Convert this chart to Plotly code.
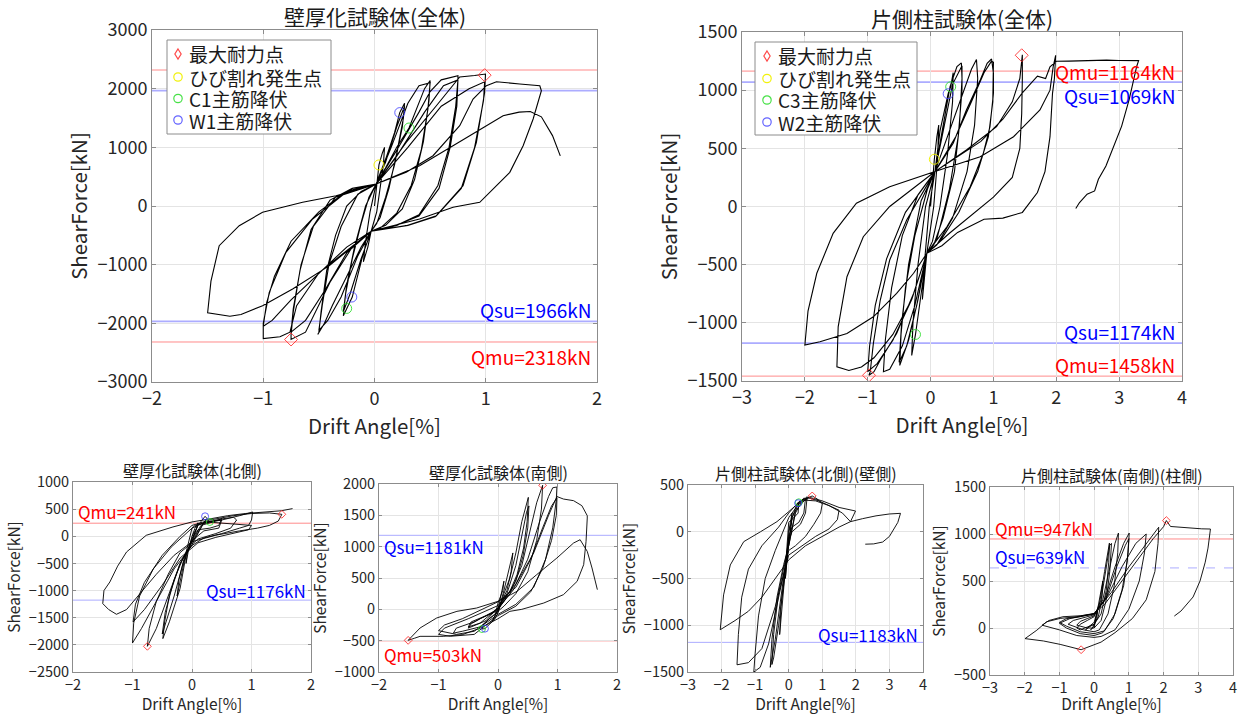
import plotly.graph_objects as go

FONT = "Noto Sans CJK JP"

# ---------------- data (drift angle [%], shear force [kN]) ----------------
TL_LOOP = [(0,0),(0.02,350),(0.04,700),(0.07,900),(0.09,1000),(0.08,700),(0.05,300),(0.02,-100),(-0.03,-430),(-0.06,-700),(-0.1,-950),(-0.08,-600),(-0.04,-100),(0.015,375),
(0.1,800),(0.18,1250),(0.227,1592),(0.27,1750),(0.26,1500),(0.2,900),(0.13,300),(0.05,-200),(-0.03,-430),(-0.1,-800),(-0.2,-1552),(-0.25,-1746),(-0.28,-1870),(-0.26,-1500),(-0.2,-900),(-0.12,-300),(-0.05,150),(0.015,375),
(0.1,750),(0.2,1350),(0.27,1700),(0.25,1350),(0.18,700),(0.1,150),(0.02,-300),(-0.03,-430),(-0.12,-900),(-0.22,-1500),(-0.28,-1800),(-0.25,-1350),(-0.18,-700),(-0.08,0),(0.015,375),
(0.1,650),(0.2,1000),(0.31,1329),(0.4,1750),(0.45,2000),(0.5,2140),(0.49,1800),(0.44,1100),(0.36,450),(0.25,-50),(0.1,-330),(-0.03,-430),(-0.12,-700),(-0.25,-1200),(-0.38,-1700),(-0.45,-2000),(-0.51,-2190),(-0.5,-2150),(-0.48,-1800),(-0.43,-1100),(-0.35,-500),(-0.25,0),(-0.12,250),(0.015,375),
(0.15,1000),(0.3,1750),(0.4,2050),(0.5,2100),(0.48,1650),(0.42,950),(0.33,350),(0.2,-120),(0.05,-380),(-0.03,-430),(-0.15,-850),(-0.3,-1550),(-0.42,-1950),(-0.5,-2120),(-0.47,-1700),(-0.41,-1000),(-0.3,-350),(-0.15,200),(0.015,375),
(0.2,950),(0.4,1600),(0.5,1950),(0.6,2150),(0.75,2220),(0.75,2150),(0.73,1700),(0.67,1000),(0.57,350),(0.4,-150),(0.2,-330),(-0.03,-430),(-0.2,-700),(-0.4,-1300),(-0.55,-1900),(-0.62,-2150),(-0.75,-2275),(-0.75,-2200),(-0.73,-1800),(-0.67,-1100),(-0.57,-400),(-0.4,100),(-0.2,300),(0.015,375),
(0.2,850),(0.45,1600),(0.62,2050),(0.75,2150),(0.74,1700),(0.68,1000),(0.58,300),(0.4,-170),(0.15,-360),(-0.03,-430),(-0.25,-800),(-0.45,-1450),(-0.62,-1950),(-0.75,-2150),(-0.73,-1750),(-0.66,-1000),(-0.55,-350),(-0.35,150),(0.015,375),
(0.285,1085),(0.556,1709),(0.7,2050),(0.766,2200),(0.9,2225),(0.997,2249),(0.997,2220),(0.99,1937),(0.916,1085),(0.796,346),(0.556,-165),(0.285,-335),(-0.03,-430),(-0.195,-676),(-0.495,-1130),(-0.7,-1700),(-0.76,-2150),(-0.85,-2230),(-1.0,-2260),(-1.0,-2000),(-0.946,-1471),(-0.796,-789),(-0.556,-221),(-0.255,233),(0.015,375),
(0.3,1000),(0.6,1700),(0.85,2000),(0.99,2116),(0.98,1800),(0.9,1000),(0.78,300),(0.55,-180),(0.3,-330),(-0.03,-430),(-0.25,-700),(-0.5,-1150),(-0.75,-1600),(-0.92,-1950),(-1.0,-2050),(-0.97,-1650),(-0.9,-1200),(-0.75,-600),(-0.5,-100),(-0.25,250),(0.015,375),
(0.285,574),(0.526,857),(0.766,1368),(0.886,1823),(1.006,2050),(1.096,2118),(1.306,2079),(1.486,2050),(1.5,1965),(1.426,1483),(1.336,1028),(1.216,574),(0.946,63),(0.706,-22),(0.405,-221),(-0.03,-430),
(-0.405,-1017),(-0.736,-1414),(-1.006,-1699),(-1.2,-1850),(-1.3,-1880),(-1.42,-1850),(-1.5,-1820),(-1.47,-1280),(-1.396,-676),(-1.216,-335),(-1.006,-108),(-0.646,63),(-0.345,176),(0.015,375),
(0.405,687),(0.856,1198),(1.156,1539),(1.3,1600),(1.4,1610),(1.5,1520),(1.6,1200),(1.67,855)]

TR_LOOP = [(0,0),(0.03,250),(0.06,406),(0.1,600),(0.13,700),(0.11,400),(0.05,0),(-0.06,-403),(-0.1,-650),(-0.13,-800),(-0.1,-500),(-0.02,0),(0.07,300),
(0.15,650),(0.28,969),(0.32,1029),(0.36,1150),(0.35,900),(0.27,450),(0.15,0),(0.03,-300),(-0.06,-403),(-0.15,-750),(-0.24,-1100),(-0.3,-1280),(-0.28,-1000),(-0.2,-500),(-0.08,0),(0.07,300),
(0.2,686),(0.31,1030),(0.42,1202),(0.49,1234),(0.5,1100),(0.46,700),(0.38,300),(0.2,-100),(0.05,-330),(-0.06,-403),(-0.2,-800),(-0.35,-1150),(-0.49,-1366),(-0.47,-1100),(-0.4,-700),(-0.25,-250),(-0.05,150),(0.07,300),
(0.22,700),(0.35,1050),(0.5,1210),(0.5,1000),(0.44,600),(0.3,150),(0.1,-280),(-0.06,-403),(-0.22,-850),(-0.38,-1200),(-0.5,-1340),(-0.46,-1000),(-0.35,-500),(-0.15,50),(0.07,300),
(0.3,650),(0.5,950),(0.65,1180),(0.73,1263),(0.75,1100),(0.7,700),(0.58,300),(0.35,-100),(0.1,-330),(-0.06,-403),(-0.25,-850),(-0.45,-1200),(-0.65,-1400),(-0.75,-1420),(-0.72,-1150),(-0.62,-700),(-0.45,-250),(-0.2,100),(0.07,300),
(0.36,544),(0.57,830),(0.79,1088),(0.9,1230),(0.97,1268),(1.0,1146),(1.0,974),(0.945,686),(0.84,458),(0.63,170),(0.26,-174),(-0.06,-403),(-0.27,-747),(-0.54,-1091),(-0.8,-1320),(-0.9,-1420),(-0.98,-1451),(-0.96,-1420),(-0.91,-1177),(-0.8,-804),(-0.65,-460),(-0.38,-116),(0.07,300),
(0.4,600),(0.65,900),(0.85,1150),(0.97,1250),(1.0,1240),(0.99,900),(0.92,600),(0.75,300),(0.45,-50),(0.15,-300),(-0.06,-403),(-0.3,-800),(-0.6,-1150),(-0.85,-1350),(-1.0,-1420),(-0.97,-1200),(-0.88,-850),(-0.7,-450),(-0.4,-50),(0.07,300),
(0.57,486),(1.05,686),(1.3,900),(1.42,1100),(1.46,1305),(1.46,1100),(1.45,800),(1.42,500),(1.3,250),(1.0,80),(0.6,-100),(0.3,-230),(-0.06,-403),(-0.3,-800),(-0.6,-1100),(-0.9,-1300),(-1.1,-1380),(-1.3,-1410),(-1.49,-1378),(-1.47,-1034),(-1.33,-604),(-1.07,-260),(-0.65,0),(0.07,300),
(0.79,428),(1.32,600),(1.74,830),(1.9,1000),(1.95,1200),(1.99,1300),(1.97,1100),(1.94,973),(1.9,600),(1.82,300),(1.7,120),(1.46,-51),(1.15,-100),(0.85,-109),(0.43,-223),(0.18,-337),(-0.06,-403),
(-0.27,-574),(-0.54,-747),(-0.91,-948),(-1.33,-1091),(-1.76,-1163),(-2.0,-1191),(-1.95,-900),(-1.81,-574),(-1.55,-231),(-1.18,28),(-0.65,170),(0.07,300),
(0.4,420),(0.8,560),(1.15,750),(1.46,977),(1.7,1120),(1.83,1100),(1.9,1200),(2.0,1248),(2.2,1250),(2.5,1255),(2.8,1258),(3.0,1255),(3.31,1254),
(3.28,1206),(3.22,1063),(3.16,920),(3.04,691),(2.92,520),(2.79,349),(2.67,234),(2.61,134),(2.49,106),(2.37,34),(2.31,-17)]

BL_LOOP = [(0,0),(0.05,150),(0.1,250),(0.08,150),(0,0),(-0.05,-200),(-0.1,-500),(-0.08,-300),(0,-50),
(0.1,200),(0.22,368),(0.25,330),(0.2,250),(0.1,200),(0,150),(-0.1,-300),(-0.2,-800),(-0.25,-1100),(-0.22,-800),(-0.12,-350),(0,-100),
(0.1,220),(0.3,264),(0.45,300),(0.5,330),(0.45,200),(0.3,150),(0.1,120),(0,-43),(-0.1,-350),(-0.2,-960),(-0.38,-1575),(-0.49,-1885),(-0.46,-1578),(-0.38,-1087),(-0.21,-534),(-0.1,-289),(0,-104),
(0.15,200),(0.4,280),(0.5,300),(0.45,150),(0.2,100),(0,-80),(-0.15,-500),(-0.3,-1100),(-0.45,-1650),(-0.5,-1800),(-0.45,-1400),(-0.3,-800),(-0.15,-400),(0,-150),
(0.2,250),(0.5,320),(0.7,350),(0.75,300),(0.65,150),(0.4,50),(0.1,-50),(0,-150),(-0.2,-500),(-0.4,-1100),(-0.6,-1700),(-0.75,-2027),(-0.72,-1700),(-0.6,-1200),(-0.4,-700),(-0.2,-300),(0,-120),
(0.2,260),(0.5,300),(0.8,380),(1.02,448),(1.0,300),(0.95,200),(0.8,150),(0.5,50),(0.2,-30),(0,-170),(-0.3,-600),(-0.6,-1200),(-0.85,-1700),(-1.0,-1965),(-0.98,-1600),(-0.88,-1100),(-0.65,-600),(-0.35,-200),(-0.1,50),(0.05,200),
(0.3,260),(0.6,240),(0.85,220),(1.0,200),(0.95,120),(0.7,60),(0.4,-20),(0.1,-120),(-0.2,-400),(-0.5,-900),(-0.8,-1350),(-0.99,-1578),(-0.95,-1250),(-0.8,-850),(-0.5,-350),(-0.2,0),(0,200),
(0.3,300),(0.7,380),(1.0,420),(1.3,430),(1.51,405),(1.45,280),(1.3,200),(1.1,150),(0.8,100),(0.4,20),(0,-100),
(-0.3,-350),(-0.6,-700),(-0.9,-1100),(-1.1,-1350),(-1.27,-1437),(-1.4,-1350),(-1.5,-1240),(-1.48,-1000),(-1.38,-841),(-1.25,-550),(-1.1,-289),(-0.77,18),(-0.32,172),(0,264),
(0.3,320),(0.6,380),(0.9,420),(1.2,440),(1.5,470),(1.69,510)]

BM_LOOP = [(0,0),(0.05,200),(0.1,450),(0.08,300),(0,100),(-0.05,-100),(-0.1,-200),(-0.05,-150),(0,-50),
(0.1,300),(0.2,700),(0.25,900),(0.22,600),(0.15,300),(0.05,100),(0,0),(-0.1,-200),(-0.22,-308),(-0.27,-314),(-0.25,-250),(-0.15,-150),(0,-50),
(0.1,250),(0.2,500),(0.3,900),(0.4,1400),(0.49,1750),(0.51,1787),(0.49,1404),(0.43,979),(0.32,553),(0.2,287),(0.05,100),(0,30),(-0.2,-180),(-0.4,-260),(-0.5,-300),(-0.45,-230),(-0.3,-150),(0,-20),
(0.15,250),(0.3,700),(0.4,1150),(0.48,1550),(0.52,1650),(0.5,1300),(0.42,850),(0.3,450),(0.1,130),(0,20),(-0.3,-220),(-0.5,-280),(-0.45,-200),(-0.2,-100),(0,0),
(0.2,250),(0.4,700),(0.55,1300),(0.65,1700),(0.75,1979),(0.73,1600),(0.65,1100),(0.5,600),(0.3,250),(0.1,50),(0,-30),(-0.3,-280),(-0.6,-350),(-0.75,-380),(-0.7,-300),(-0.4,-200),(-0.1,-50),(0,20),
(0.25,300),(0.5,800),(0.7,1400),(0.85,1800),(0.92,1940),(0.99,1952),(0.98,1750),(0.92,1300),(0.8,800),(0.6,350),(0.3,80),(0,-80),(-0.4,-350),(-0.7,-400),(-1.0,-340),(-0.9,-250),(-0.6,-150),(-0.2,30),(0,120),
(0.3,350),(0.55,800),(0.75,1300),(0.9,1650),(0.99,1777),(0.98,1500),(0.9,1100),(0.75,650),(0.55,280),(0.3,50),(0,-100),(-0.4,-400),(-0.8,-430),(-1.0,-400),(-0.9,-300),(-0.5,-150),(0,60),
(0.3,400),(0.6,900),(0.85,1500),(0.99,1800),(1.1,1760),(1.27,1734),(1.41,1654),(1.5,1494),(1.5,1457),(1.48,1085),(1.44,713),(1.33,447),(1.1,234),(0.77,101),(0.4,0),(0.2,-32),(0,-150),
(-0.3,-300),(-0.6,-404),(-0.92,-431),(-1.31,-431),(-1.4,-460),(-1.51,-495),(-1.31,-298),(-1.03,-138),(-0.69,-32),(-0.36,21),(0,128),
(0.32,287),(0.65,553),(0.99,819),(1.27,1058),(1.38,1111),(1.5,925),(1.58,660),(1.67,314)]

BR1_LOOP = [(0,0),(0.05,100),(0.1,200),(0.08,100),(0,0),(-0.05,-300),(-0.1,-500),(-0.07,-300),(0,-100),
(0.1,150),(0.25,300),(0.3,315),(0.28,200),(0.15,150),(0,100),(-0.1,-400),(-0.2,-800),(-0.27,-1100),(-0.23,-800),(-0.1,-400),(0,-150),
(0.1,150),(0.3,300),(0.45,360),(0.5,355),(0.45,200),(0.3,100),(0.1,50),(0,-50),(-0.15,-500),(-0.3,-1000),(-0.45,-1350),(-0.5,-1420),(-0.45,-1100),(-0.3,-650),(-0.1,-300),(0,-150),
(0.2,200),(0.4,330),(0.55,375),(0.5,200),(0.35,80),(0.1,0),(0,-80),(-0.2,-600),(-0.4,-1150),(-0.55,-1450),(-0.5,-1150),(-0.35,-700),(-0.15,-350),(0,-150),
(0.2,220),(0.5,350),(0.7,383),(0.85,350),(1.0,300),(0.95,200),(0.75,80),(0.5,-50),(0.2,-150),(0,-200),(-0.3,-700),(-0.6,-1200),(-0.85,-1450),(-1.04,-1500),(-1.0,-1300),(-0.9,-900),(-0.7,-500),(-0.4,-200),(0,150),
(0.3,300),(0.6,360),(0.9,330),(1.2,280),(1.5,230),(1.45,130),(1.2,30),(0.8,-50),(0.4,-150),(0,-250),(-0.4,-800),(-0.8,-1250),(-1.2,-1400),(-1.54,-1423),(-1.5,-1100),(-1.4,-700),(-1.2,-400),(-0.8,-150),(-0.3,50),(0,200),
(0.3,320),(0.6,370),(1.0,330),(1.5,260),(1.99,222),(1.84,108),(1.5,50),(1.0,-50),(0.5,-150),(0,-300),
(-0.4,-500),(-0.8,-700),(-1.2,-850),(-1.6,-950),(-2.04,-1048),(-1.94,-675),(-1.74,-355),(-1.34,-106),(-0.84,0),(-0.35,108),(0,215),
(0.4,340),(0.8,330),(1.2,280),(1.6,200),(1.84,108),(2.2,140),(2.6,170),(3.0,190),(3.33,197),(3.25,100),(3.0,-50),(2.8,-110),(2.53,-130),(2.28,-133)]

BR2_LOOP = [(0,0),(0.05,100),(0.1,200),(0.08,100),(0,30),(-0.05,0),(-0.1,-20),(-0.05,0),(0,20),
(0.1,200),(0.2,400),(0.25,500),(0.22,300),(0.12,120),(0,40),(-0.15,10),(-0.25,-20),(-0.2,0),(-0.1,30),(0,60),
(0.15,250),(0.3,600),(0.4,850),(0.44,903),(0.42,700),(0.35,400),(0.2,150),(0,40),(-0.2,10),(-0.4,-20),(-0.5,0),(-0.4,40),(-0.2,80),(0,120),
(0.2,300),(0.35,650),(0.45,880),(0.5,900),(0.45,600),(0.35,300),(0.2,80),(0,0),(-0.2,0),(-0.5,30),(-0.4,70),(-0.2,100),(0,130),
(0.25,300),(0.45,650),(0.6,900),(0.7,1010),(0.68,800),(0.58,450),(0.4,150),(0.15,-20),(0,-40),(-0.3,-20),(-0.6,20),(-0.75,40),(-0.6,80),(-0.3,110),(0,140),
(0.3,300),(0.6,650),(0.85,900),(1.01,1010),(0.98,800),(0.85,450),(0.6,150),(0.3,-30),(0,-60),(-0.4,-40),(-0.8,20),(-1.0,60),(-0.8,100),(-0.4,120),(0,150),
(0.35,320),(0.65,650),(0.9,880),(1.0,950),(0.95,700),(0.8,400),(0.55,100),(0.25,-50),(0,-80),(-0.4,-60),(-0.8,0),(-1.0,50),(-0.7,100),(-0.3,130),(0,150),
(0.4,350),(0.8,650),(1.2,900),(1.5,1000),(1.45,800),(1.3,500),(1.0,200),(0.6,-20),(0.2,-90),(0,-100),(-0.5,-80),(-1.0,-20),(-1.5,30),(-1.3,80),(-0.9,120),(-0.4,130),(0,150),
(0.5,380),(1.0,650),(1.5,900),(1.86,1072),(1.84,900),(1.75,600),(1.5,300),(1.1,100),(0.6,-50),(0.2,-150),(-0.375,-231),(-0.98,-174),(-1.46,-138),(-1.99,-113),(-1.65,-23),(-1.37,66),(-0.98,102),(-0.5,120),(0,156),
(0.3,250),(0.8,500),(1.3,750),(1.7,950),(2.0,1078),(2.08,1143),(2.2,1080),(2.5,1070),(2.8,1060),(3.1,1055),(3.35,1053),
(3.33,1000),(3.28,850),(3.2,700),(3.05,500),(2.85,330),(2.65,250),(2.5,180),(2.31,127)]

# marker points
TL_MAX_X, TL_MAX_Y = [0.99, -0.75], [2230, -2275]
TL_CRACK_X, TL_CRACK_Y = [0.04], [700]
TL_C1_X, TL_C1_Y = [0.31, -0.25], [1329, -1746]
TL_W1_X, TL_W1_Y = [0.227, -0.204], [1592, -1552]

TR_MAX_X, TR_MAX_Y = [1.45, -0.98], [1300, -1451]
TR_CRACK_X, TR_CRACK_Y = [0.06], [406]
TR_C3_X, TR_C3_Y = [0.32, -0.24], [1029, -1100]
TR_W2_X, TR_W2_Y = [0.28], [969]

BL_MAX_X, BL_MAX_Y = [1.51, -0.75], [405, -2027]
BL_C_X, BL_C_Y = [0.30], [264]
BL_W_X, BL_W_Y = [0.22], [368]

BM_MAX_X, BM_MAX_Y = [0.75, -1.51], [1979, -495]
BM_C_X, BM_C_Y = [-0.27], [-314]
BM_W_X, BM_W_Y = [-0.22], [-308]

BR1_MAX_X, BR1_MAX_Y = [0.7], [383]
BR1_C_X, BR1_C_Y = [0.3], [315]
BR1_W_X, BR1_W_Y = [0.28], [305]

BR2_MAX_X, BR2_MAX_Y = [2.08, -0.375], [1143, -231]

# reference strengths [kN]
TL_QMU, TL_QSU = [2318, -2318], [1966, -1966]
TR_QMU, TR_QSU = [1164, -1458], [1069, -1174]
BL_QMU, BL_QSU = [241], [-1176]
BM_QMU, BM_QSU = [-503], [1181]
BR1_QSU = [-1183]
BR2_QMU, BR2_QSU = [947], [639]

TITLES = ["壁厚化試験体(全体)", "片側柱試験体(全体)", "壁厚化試験体(北側)",
          "壁厚化試験体(南側)", "片側柱試験体(北側)(壁側)", "片側柱試験体(南側)(柱側)"]
TL_LEGEND = ["最大耐力点", "ひび割れ発生点", "C1主筋降伏", "W1主筋降伏"]
TR_LEGEND = ["最大耐力点", "ひび割れ発生点", "C3主筋降伏", "W2主筋降伏"]

# ---------------- layout geometry (pixels) ----------------
W, H = 1242, 714
BOX = {  # x0, x1, ytop, ybottom
    1: (152, 597, 30, 382),
    2: (742, 1182, 32, 381),
    3: (73, 311, 482, 672),
    4: (379, 617, 484, 672),
    5: (688, 923, 485, 672),
    6: (990, 1233, 487, 675),
}
RANGES = {1: ([-2, 2], [-3000, 3000], 1000), 2: ([-3, 4], [-1500, 1500], 500),
          3: ([-2, 2], [-2500, 1000], 500), 4: ([-2, 2], [-1000, 2000], 500),
          5: ([-3, 4], [-1500, 500], 500), 6: ([-3, 4], [-500, 1500], 500)}

RED_M = "rgba(255,40,40,0.85)"
YEL_M = "rgba(240,240,0,0.95)"
GRN_M = "rgba(40,220,40,0.85)"
BLU_M = "rgba(60,60,255,0.8)"
RED_L = "rgba(255,60,60,0.6)"
BLU_L = "rgba(90,90,255,0.5)"
LEG_COLORS = [RED_M, YEL_M, GRN_M, BLU_M]

fig = go.Figure()

def ax_names(i):
    return ("x" if i == 1 else f"x{i}"), ("y" if i == 1 else f"y{i}")

def add_loop(i, loop, lw):
    xa, ya = ax_names(i)
    xs = [p[0] for p in loop]
    ys = [p[1] for p in loop]
    fig.add_trace(go.Scatter(x=xs, y=ys, mode="lines", line=dict(color="black", width=lw),
                             xaxis=xa, yaxis=ya, showlegend=False, hoverinfo="skip"))

def add_pts(i, xs, ys, sym, color, size):
    xa, ya = ax_names(i)
    fig.add_trace(go.Scatter(x=xs, y=ys, mode="markers",
                             marker=dict(symbol=sym, size=size, color=color, line=dict(color=color, width=1)),
                             xaxis=xa, yaxis=ya, showlegend=False, hoverinfo="skip"))

add_loop(1, TL_LOOP, 1.1)
add_loop(2, TR_LOOP, 1.1)
add_loop(3, BL_LOOP, 0.9)
add_loop(4, BM_LOOP, 0.9)
add_loop(5, BR1_LOOP, 0.9)
add_loop(6, BR2_LOOP, 0.9)

add_pts(1, TL_MAX_X, TL_MAX_Y, "diamond-open", RED_M, 10)
add_pts(1, TL_CRACK_X, TL_CRACK_Y, "circle-open", YEL_M, 10)
add_pts(1, TL_C1_X, TL_C1_Y, "circle-open", GRN_M, 10)
add_pts(1, TL_W1_X, TL_W1_Y, "circle-open", BLU_M, 10)

add_pts(2, TR_MAX_X, TR_MAX_Y, "diamond-open", RED_M, 10)
add_pts(2, TR_CRACK_X, TR_CRACK_Y, "circle-open", YEL_M, 10)
add_pts(2, TR_C3_X, TR_C3_Y, "circle-open", GRN_M, 10)
add_pts(2, TR_W2_X, TR_W2_Y, "circle-open", BLU_M, 10)

add_pts(3, BL_MAX_X, BL_MAX_Y, "diamond-open", RED_M, 6)
add_pts(3, BL_C_X, BL_C_Y, "circle-open", GRN_M, 7)
add_pts(3, BL_W_X, BL_W_Y, "circle-open", BLU_M, 7)
add_pts(4, BM_MAX_X, BM_MAX_Y, "diamond-open", RED_M, 6)
add_pts(4, BM_C_X, BM_C_Y, "circle-open", GRN_M, 7)
add_pts(4, BM_W_X, BM_W_Y, "circle-open", BLU_M, 7)
add_pts(5, BR1_MAX_X, BR1_MAX_Y, "diamond-open", RED_M, 6)
add_pts(5, BR1_C_X, BR1_C_Y, "circle-open", GRN_M, 7)
add_pts(5, BR1_W_X, BR1_W_Y, "circle-open", BLU_M, 7)
add_pts(6, BR2_MAX_X, BR2_MAX_Y, "diamond-open", RED_M, 6)

shapes = []
annots = []

def hline(i, val, color, width=1, dash="solid"):
    xa, ya = ax_names(i)
    shapes.append(dict(type="line", xref=f"{xa} domain", yref=ya, x0=0, x1=1, y0=val, y1=val,
                       line=dict(color=color, width=width, dash=dash), layer="below"))

def label(i, x, y, text, color, anchor, size):
    xa, ya = ax_names(i)
    annots.append(dict(x=x, y=y, xref=xa, yref=ya, text=text, showarrow=False,
                       xanchor=anchor, yanchor="middle",
                       font=dict(family=FONT, size=size, color=color)))

for v in TL_QMU:
    hline(1, v, RED_L, 1)
for v in TL_QSU:
    hline(1, v, BLU_L, 1.6)
label(1, 1.96, -1760, f"Qsu={abs(TL_QSU[0])}kN", "blue", "right", 19)
label(1, 1.96, -2560, f"Qmu={abs(TL_QMU[0])}kN", "red", "right", 19)

for v in TR_QMU:
    hline(2, v, RED_L, 1)
for v in TR_QSU:
    hline(2, v, BLU_L, 1.6)
label(2, 3.92, 1163, f"Qmu={abs(TR_QMU[0])}kN", "red", "right", 19)
label(2, 3.92, 957, f"Qsu={abs(TR_QSU[0])}kN", "blue", "right", 19)
label(2, 3.92, -1071, f"Qsu={abs(TR_QSU[1])}kN", "blue", "right", 19)
label(2, 3.92, -1357, f"Qmu={abs(TR_QMU[1])}kN", "red", "right", 19)

hline(3, BL_QMU[0], RED_L, 1)
hline(3, BL_QSU[0], BLU_L, 1)
label(3, -1.95, 448, f"Qmu={abs(BL_QMU[0])}kN", "red", "left", 17)
label(3, 1.95, -995, f"Qsu={abs(BL_QSU[0])}kN", "blue", "right", 17)

hline(4, BM_QSU[0], BLU_L, 1)
hline(4, BM_QMU[0], RED_L, 1)
label(4, -1.95, 1005, f"Qsu={abs(BM_QSU[0])}kN", "blue", "left", 17)
label(4, -1.95, -713, f"Qmu={abs(BM_QMU[0])}kN", "red", "left", 17)

hline(5, BR1_QSU[0], BLU_L, 1)
label(5, 3.9, -1101, f"Qsu={abs(BR1_QSU[0])}kN", "blue", "right", 17)

hline(6, BR2_QMU[0], RED_L, 1)
hline(6, BR2_QSU[0], BLU_L, 1, "dash")
label(6, -2.92, 1061, f"Qmu={abs(BR2_QMU[0])}kN", "red", "left", 17)
label(6, -2.92, 766, f"Qsu={abs(BR2_QSU[0])}kN", "blue", "left", 17)

# ----- legends drawn as boxed keys (paper coordinates) -----
def px(x):
    return x / W

def py(y):
    return 1 - y / H

def legend_box(x0, x1, y0, y1, rows, sym_x, text_x, texts):
    shapes.append(dict(type="rect", xref="paper", yref="paper", x0=px(x0), x1=px(x1), y0=py(y1), y1=py(y0),
                       line=dict(color="#8c8c8c", width=1), fillcolor="white", layer="above"))
    r = 4.2
    for k, (yy, txt) in enumerate(zip(rows, texts)):
        col = LEG_COLORS[k]
        if k == 0:
            path = (f"M {px(sym_x)},{py(yy - r - 0.8)} L {px(sym_x + r * 0.75)},{py(yy)} "
                    f"L {px(sym_x)},{py(yy + r + 0.8)} L {px(sym_x - r * 0.75)},{py(yy)} Z")
            shapes.append(dict(type="path", xref="paper", yref="paper", path=path,
                               line=dict(color=col, width=1.2), layer="above"))
        else:
            shapes.append(dict(type="circle", xref="paper", yref="paper",
                               x0=px(sym_x - r), x1=px(sym_x + r), y0=py(yy + r), y1=py(yy - r),
                               line=dict(color=col, width=1.2), layer="above"))
        annots.append(dict(x=px(text_x), y=py(yy), xref="paper", yref="paper", text=txt,
                           showarrow=False, xanchor="left", yanchor="middle",
                           font=dict(family=FONT, size=19, color="#1a1a1a")))

legend_box(167, 331, 40, 134, [54, 77, 98.5, 120], 178, 187, TL_LEGEND)
legend_box(755, 917, 42, 135, [56, 78.5, 100, 122], 767, 776, TR_LEGEND)

layout = dict(width=W, height=H, margin=dict(l=0, r=0, t=0, b=0),
              paper_bgcolor="white", plot_bgcolor="white",
              font=dict(family=FONT, color="#262626"), showlegend=False)

for i, (x0, x1, yt, yb) in BOX.items():
    xr, yr, ydt = RANGES[i]
    big = i <= 2
    tsz = 18 if big else 14.5
    lsz = 20.5 if big else 15.5
    xkey = "xaxis" if i == 1 else f"xaxis{i}"
    ykey = "yaxis" if i == 1 else f"yaxis{i}"
    xa, ya = ax_names(i)
    common = dict(showgrid=True, gridcolor="#e4e4e4", gridwidth=1, zeroline=False,
                  showline=True, linecolor="#8c8c8c", linewidth=1, mirror="ticks",
                  ticks="inside", ticklen=4 if big else 3, tickcolor="#8c8c8c",
                  automargin=False,
                  tickfont=dict(family=FONT, size=tsz, color="#262626"))
    layout[xkey] = dict(common, domain=[x0 / W, x1 / W], range=xr, dtick=1, anchor=ya,
                        title=dict(text="Drift Angle[%]", font=dict(family=FONT, size=lsz, color="#262626"),
                                   standoff=0))
    layout[ykey] = dict(common, domain=[1 - yb / H, 1 - yt / H], range=yr, dtick=ydt, anchor=xa,
                        title=dict(text="ShearForce[kN]", font=dict(family=FONT, size=lsz, color="#262626"),
                                   standoff=4))
    annots.append(dict(x=(x0 + x1) / 2 / W, y=1 - (yt - (14 if big else 12)) / H, xref="paper", yref="paper",
                       text=TITLES[i - 1], showarrow=False, xanchor="center", yanchor="middle",
                       font=dict(family=FONT, size=21 if big else 16, color="#1a1a1a")))

layout["shapes"] = shapes
layout["annotations"] = annots

fig.update_layout(layout)
fig.write_html("out.html", config={"displayModeBar": False},
               post_script="document.body.style.margin='0px';document.body.style.padding='0px';")
